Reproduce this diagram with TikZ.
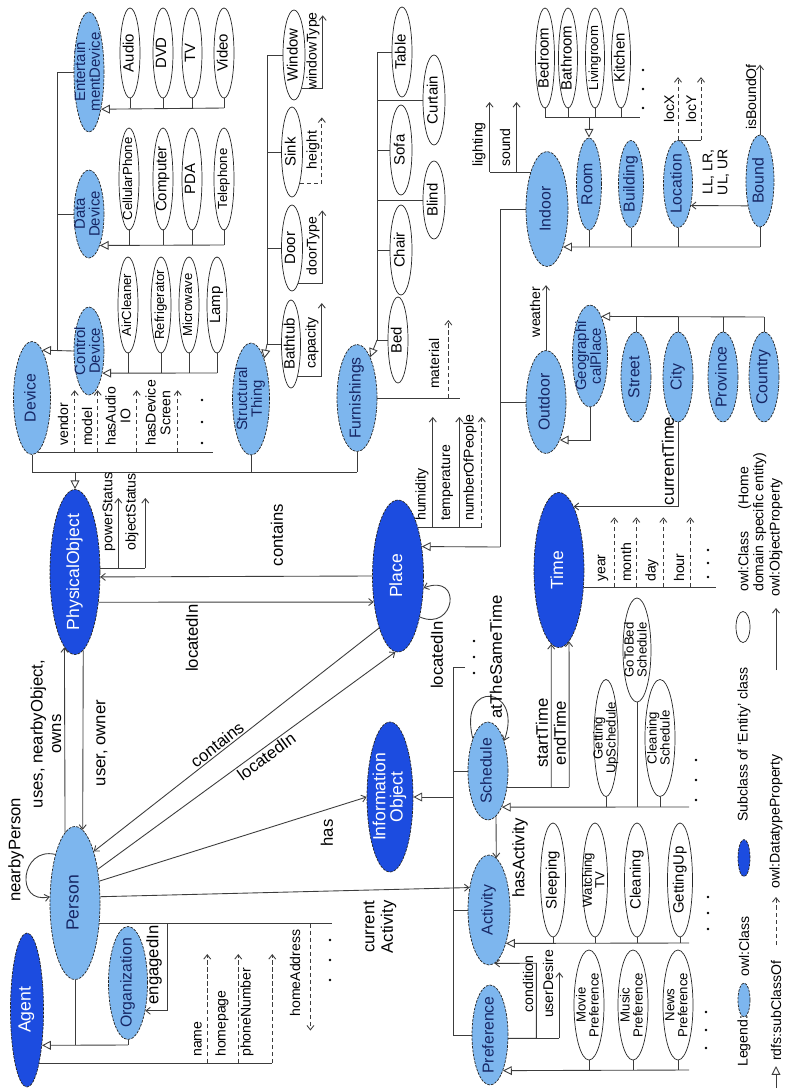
\documentclass[tikz,border=0pt]{standalone}
\usepackage{fontspec}
\setmainfont{Liberation Sans}
\usepackage{graphicx}
\usetikzlibrary{shapes.geometric,arrows.meta,calc}
\definecolor{ClsFill}{RGB}{125,182,238}
\definecolor{EntFill}{RGB}{28,76,224}
\definecolor{ClsText}{RGB}{22,38,100}
\definecolor{LnCol}{RGB}{60,60,60}
\newcommand{\vt}[1]{\makebox[0pt][c]{\raisebox{-0.5\height}[0pt][0pt]{\rotatebox{90}{\def\arraystretch{0.8}\begin{tabular}{@{}c@{}}#1\end{tabular}}}}}
\tikzset{
  sz/.style 2 args={minimum width=#1*0.02cm,minimum height=#2*0.02cm},
  nd_cls/.style={ellipse,draw=black!85,dash pattern=on 1.5pt off 0.7pt,fill=ClsFill,inner sep=0pt,text=ClsText,font=\fontsize{9}{10}\selectfont},
  nd_ent/.style={nd_cls,fill=EntFill,text=white,font=\fontsize{10}{11}\selectfont},
  nd_two/.style={font=\fontsize{8.5}{9}\selectfont},
  nd_leaf/.style={ellipse,draw=black!85,fill=white,inner sep=0pt,font=\fontsize{8.5}{9}\selectfont},
  nd_sm/.style={font=\fontsize{7.5}{8}\selectfont},
  ln/.style={draw=LnCol,line width=0.5pt},
  arr_sub/.style={ln,-{Triangle[open,length=5pt,width=5pt]}},
  arr_obj/.style={ln,-{Straight Barb[length=2.5pt,width=4pt]}},
  arr_dat/.style={arr_obj,dash pattern=on 2.5pt off 1.5pt},
  lbl/.style={rotate=90,inner sep=0.5pt,font=\fontsize{9.5}{10.5}\selectfont,align=center},
  slbl/.style={inner sep=1pt,font=\fontsize{9.5}{10.5}\selectfont},
  plbl/.style={rotate=90,inner sep=0.5pt,font=\fontsize{8}{8.5}\selectfont,align=center},
}

\begin{document}
\begin{tikzpicture}[x=0.02cm,y=-0.02cm]

\fill[white] (0,0) rectangle (786,1090);
\useasboundingbox (0,0) rectangle (786,1090);

% devices
\node[nd_cls,nd_two,sz={30}{120}] (EntDev)  at (89,72)  {\vt{Entertain\\mentDevice}};
\node[nd_cls,nd_two,sz={30}{88}]  (DataDev) at (89,214) {\vt{Data\\Device}};
\node[nd_cls,nd_two,sz={30}{88}]  (CtrlDev) at (89,351) {\vt{Control\\Device}};
\node[nd_cls,sz={37}{113}]        (Device)  at (32,398) {\vt{Device}};
\node[nd_leaf,sz={20}{90}]  (Audio) at (130,53) {\vt{Audio}};
\node[nd_leaf,sz={20}{90}]  (DVD)   at (163,53) {\vt{DVD}};
\node[nd_leaf,sz={20}{90}]  (TV)    at (192,53) {\vt{TV}};
\node[nd_leaf,sz={20}{90}]  (Video) at (224,53) {\vt{Video}};
\node[nd_leaf,nd_sm,sz={20}{102}] (CellPhone) at (129,179) {\vt{CellularPhone}};
\node[nd_leaf,sz={20}{102}]       (Computer)  at (163,179) {\vt{Computer}};
\node[nd_leaf,sz={20}{102}]       (PDA)       at (192,179) {\vt{PDA}};
\node[nd_leaf,nd_sm,sz={20}{102}] (Phone)     at (224,179) {\vt{Telephone}};
\node[nd_leaf,nd_sm,sz={20}{96}]  (AirClean)  at (128,305) {\vt{AirCleaner}};
\node[nd_leaf,nd_sm,sz={20}{96}]  (Fridge)    at (161,305) {\vt{Refrigerator}};
\node[nd_leaf,nd_sm,sz={20}{96}]  (Microwave) at (189,305) {\vt{Microwave}};
\node[nd_leaf,sz={20}{96}]        (Lamp)      at (217,305) {\vt{Lamp}};

\coordinate (entBus) at (224,108);
\coordinate (dataBus) at (224,245);
\coordinate (ctrlBus) at (217,373);
\coordinate (devJ) at (57,351);
\foreach \n in {Audio,DVD,TV,Video} \draw[ln] (\n.south) -- (\n.south |- entBus);
\foreach \n in {CellPhone,Computer,PDA,Phone} \draw[ln] (\n.south) -- (\n.south |- dataBus);
\foreach \n in {AirClean,Fridge,Microwave,Lamp} \draw[ln] (\n.south) -- (\n.south |- ctrlBus);
\draw[arr_sub] (entBus) -- (EntDev.-72);
\draw[arr_sub] (dataBus) -- (DataDev.-71);
\draw[arr_sub] (ctrlBus) -- (CtrlDev.-59);
\draw[ln] (EntDev.west) -| (devJ);
\draw[ln] (DataDev.west) -- (DataDev.west -| devJ);
\draw[arr_sub] (CtrlDev.west) -- (Device.78);

\draw[ln] (Device.-84) -- ++(175,0);
\foreach \dx in {37,60,99,140} \draw[arr_dat] (Device.-84) ++(\dx,0) -- ++(0,-62);
\node[plbl,anchor=west] at (63,447)  {vendor};
\node[plbl,anchor=west] at (87,447)  {model};
\node[plbl,anchor=west] at (118,447) {hasAudio\\IO};
\node[plbl,anchor=west] at (158,447) {hasDevice\\Screen};
\foreach \y in {400,422,443} \fill[black] (202,\y) circle[radius=0.8pt];

% structural thing
\node[nd_cls,nd_two,sz={37}{112}] (StrThing) at (251,399) {\vt{Structural\\Thing}};
\node[nd_leaf,sz={22}{90}] (Window)  at (294,55)  {\vt{Window}};
\node[nd_leaf,sz={21}{90}] (Sink)    at (292,152) {\vt{Sink}};
\node[nd_leaf,sz={21}{86}] (Door)    at (292,248) {\vt{Door}};
\node[nd_leaf,sz={19}{88}] (Bathtub) at (291,344) {\vt{Bathtub}};
\coordinate (stTop) at (267,55);
\coordinate (stBot) at (267,344);
\draw[ln] (Window.west) -- (stTop) -- (stBot);
\draw[ln] (Sink.west) -- (Sink.west -| stTop);
\draw[ln] (Door.west) -- (Door.west -| stTop);
\draw[ln] (Bathtub.west) -- (stBot);
\draw[arr_sub] (stBot) -- (StrThing.72);
\draw[arr_obj] (Window.-77) -- ++(21,0) -- ++(0,-73);
\draw[arr_dat] (Sink.-76) -- ++(22,0) -- ++(0,-66);
\draw[arr_obj] (Door.-80) -- ++(24,0) -- ++(0,-73);
\draw[arr_obj] (Bathtub.-78) -- ++(24,0) -- ++(0,-73);
\node[plbl] at (313,51)  {windowType};
\node[plbl] at (313,150) {height};
\node[plbl] at (313,246) {doorType};
\node[plbl] at (312,343) {capacity};

% furnishings
\node[nd_cls,sz={40}{107}] (Furnish) at (357,398) {\vt{Furnishings}};
\node[nd_leaf,sz={20}{90}] (Table)   at (402,52)  {\vt{Table}};
\node[nd_leaf,sz={22}{90}] (Curtain) at (434,100) {\vt{Curtain}};
\node[nd_leaf,sz={22}{90}] (Sofa)    at (401,150) {\vt{Sofa}};
\node[nd_leaf,sz={22}{78}] (Blind)   at (434,200) {\vt{Blind}};
\node[nd_leaf,sz={22}{90}] (Chair)   at (401,250) {\vt{Chair}};
\node[nd_leaf,sz={20}{86}] (Bed)     at (398,340) {\vt{Bed}};
\coordinate (fuTop) at (377,52);
\coordinate (fuBot) at (377,340);
\draw[ln] (Table.west) -- (fuTop) -- (fuBot);
\foreach \n in {Curtain,Sofa,Blind,Chair,Bed} \draw[ln] (\n.west) -- (\n.west -| fuTop);
\draw[arr_sub] (fuBot) -- (Furnish.72);
\draw[ln] (Furnish.east) -- ++(83,0);
\draw[arr_dat] (Furnish.east) ++(71,0) -- ++(0,-78);
\node[plbl,anchor=west] at (434,390) {material};

% physical object
\node[nd_ent,sz={50}{165}] (PhysObj) at (75,572) {\vt{PhysicalObject}};
\coordinate (poBus) at (75,472);
\draw[ln] (Device.south) |- (Furnish.south |- poBus);
\draw[ln] (StrThing.south) -- (StrThing.south |- poBus);
\draw[ln] (Furnish.south) -- (Furnish.south |- poBus);
\draw[arr_sub] (poBus) -- (PhysObj.north);
\draw[ln] (PhysObj.9) -- ++(45,0);
\draw[arr_obj] (PhysObj.9) ++(18,0) -- ++(0,-70);
\draw[arr_obj] (PhysObj.9) ++(45,0) -- ++(0,-70);
\node[plbl] at (109,512) {powerStatus};
\node[plbl] at (132,512) {objectStatus};

% place
\node[nd_ent,sz={51}{152}] (Place) at (398,576) {\vt{Place}};
\draw[arr_obj] (Place.west) -- (PhysObj.-11);
\draw[arr_obj] (PhysObj.-52) -- (Place.-133);
\node[lbl] at (277,535) {contains};
\node[lbl] at (192,638) {locatedIn};
\draw[arr_obj] (Place.-62) .. controls +(35,15) and +(40,-15) .. (Place.-25);
\node[lbl] at (437,655) {locatedIn};
\draw[ln] (Place.68) -- ++(64,0);
\draw[arr_obj] (Place.68) ++(15,0) -- ++(0,-110);
\draw[arr_obj] (Place.68) ++(41.5,0) -- ++(0,-110);
\draw[arr_dat] (Place.68) ++(64,0) -- ++(0,-110);
\node[plbl,anchor=west] at (422,522) {humidity};
\node[plbl,anchor=west] at (447,522) {temperature};
\node[plbl,anchor=west] at (470,522) {numberOfPeople};

% indoor / outdoor
\node[nd_cls,sz={42}{115}] (Indoor)  at (547,209) {\vt{Indoor}};
\node[nd_cls,sz={40}{103}] (Outdoor) at (546,402) {\vt{Outdoor}};
\coordinate (plBus) at (500,547);
\draw[ln] (Indoor.west) -| (plBus);
\draw[ln] (Outdoor.west) -- (Outdoor.west -| plBus);
\draw[arr_sub] (plBus) -- (Place.51);
\draw[ln] (Indoor.114) -- ++(-41,0);
\draw[arr_obj] (Indoor.114) ++(-41,0) -- ++(0,-70);
\draw[arr_obj] (Indoor.114) ++(-14,0) -- ++(0,-70);
\node[plbl,anchor=west] at (479,168) {lighting};
\node[plbl,anchor=west] at (505,168) {sound};
\draw[arr_obj] (Outdoor.north) -- ++(0,-65);
\node[plbl] at (535,312) {weather};

\node[nd_cls,sz={25}{92}] (Room)     at (589,184) {\vt{Room}};
\node[nd_cls,sz={25}{87}] (Building) at (631,184) {\vt{Building}};
\node[nd_cls,sz={29}{87}] (Location) at (678,184) {\vt{Location}};
\node[nd_cls,sz={28}{92}] (Bound)    at (760,181) {\vt{Bound}};
\coordinate (inBus) at (760,247);
\draw[ln] (Bound.south) -- (inBus);
\foreach \n in {Room,Building,Location} \draw[ln] (\n.south) -- (\n.south |- inBus);
\draw[arr_sub] (inBus) -- (Indoor.-67);

\node[nd_leaf,sz={19}{100}] (Bedroom)  at (545,58) {\vt{Bedroom}};
\node[nd_leaf,sz={19}{100}] (Bathroom) at (568,58) {\vt{Bathroom}};
\node[nd_leaf,nd_sm,sz={19}{100}] (Living) at (595,58) {\vt{Livingroom}};
\node[nd_leaf,sz={19}{100}] (Kitchen)  at (621,58) {\vt{Kitchen}};
\coordinate (rmBus) at (589,117);
\coordinate (rmEnd) at (640,117);
\draw[ln] (Bedroom.south) |- (rmEnd);
\foreach \n in {Bathroom,Living,Kitchen} \draw[ln] (\n.south) -- (\n.south |- rmBus);
\draw[arr_sub] (rmBus) -- (Room.north);
\foreach \y in {70,89,108} \fill[black] (643,\y) circle[radius=0.8pt];

\draw[arr_dat] (Location.north) -- ++(0,-63);
\draw[ln] (Location.north) -- ++(23,0);
\draw[arr_dat] (Location.north) ++(23,0) -- ++(0,-63);
\node[plbl,anchor=west] at (669,124) {locX};
\node[plbl,anchor=west] at (691,124) {locY};
\draw[arr_obj] (Bound.-116) -- (Location.-59);
\node[plbl] at (716,172) {LL, LR,\\UL, UR};
\draw[arr_obj] (Bound.north) -- ++(0,-70);
\node[plbl] at (751,97) {isBoundOf};

% geographical place
\node[nd_cls,nd_two,sz={35}{102}] (GeoPlace) at (590,356) {\vt{Geographi\\calPlace}};
\node[nd_cls,sz={30}{90}] (Street)   at (636,377) {\vt{Street}};
\node[nd_cls,sz={30}{90}] (City)     at (678,377) {\vt{City}};
\node[nd_cls,sz={30}{90}] (Province) at (723,377) {\vt{Province}};
\node[nd_cls,sz={30}{90}] (Country)  at (764,377) {\vt{Country}};
\coordinate (gpBus) at (764,317);
\draw[ln] (Country.north) -- (gpBus);
\foreach \n in {Street,City,Province} \draw[ln] (\n.north) -- (\n.north |- gpBus);
\draw[arr_sub] (gpBus) -- (GeoPlace.74);
\draw[arr_sub] (GeoPlace.south) |- (Outdoor.-70);

% time
\node[nd_ent,sz={50}{155}] (Time) at (559,570) {\vt{Time}};
\draw[arr_obj] (City.south) |- (Time.77);
\node[lbl] at (668,461) {currentTime};
\draw[ln] (Time.-35) -- ++(132,0);
\foreach \dx in {30.6,52.6,79.6,106.6} \draw[arr_dat] (Time.-35) ++(\dx,0) -- ++(0,-70);
\node[plbl,anchor=west] at (603,583) {year};
\node[plbl,anchor=west] at (626,583) {month};
\node[plbl,anchor=west] at (652,583) {day};
\node[plbl,anchor=west] at (679,583) {hour};
\foreach \y in {550,563,577} \fill[black] (708,\y) circle[radius=0.8pt];

% information object
\node[nd_ent,sz={46}{150}] (InfoObj) at (390,797) {\vt{Information\\Object}};
\node[nd_cls,sz={40}{98}]  (Schedule) at (488,771) {\vt{Schedule}};
\node[nd_cls,sz={42}{110}] (Activity) at (489,910) {\vt{Activity}};
\node[nd_cls,sz={36}{100}] (Prefer)   at (490,1035) {\vt{Preference}};
\coordinate (ioTop) at (453,667);
\coordinate (ioBot) at (453,1035);
\draw[ln] ($(ioTop)+(12,0)$) -- (ioTop) -- (ioBot) -- (Prefer.west);
\draw[ln] (Schedule.west) -- (Schedule.west -| ioTop);
\draw[ln] (Activity.west) -- (Activity.west -| ioTop);
\draw[arr_sub] (InfoObj.east -| ioTop) -- (InfoObj.east);
\foreach \y in {641,657,673} \fill[black] (474,\y) circle[radius=0.8pt];

\draw[arr_obj] (Schedule.115) .. controls +(-15,-60) and +(20,-55) .. (Schedule.62);
\node[lbl] at (496,657) {atTheSameTime};
\draw[ln] (Schedule.-40) -- ++(62,0);
\draw[arr_obj] (Schedule.-40) ++(44,0) -- (Time.-96);
\draw[arr_obj] (Schedule.-40) ++(62,0) -- (Time.-82);
\node[lbl] at (542,733) {startTime};
\node[lbl] at (560,733) {endTime};
\draw[arr_obj] (Schedule.-80) -- (Activity.82);
\node[lbl] at (520,858) {hasActivity};

\node[nd_leaf,nd_sm,sz={24}{117}] (GetUpSch) at (606,738) {\vt{Getting\\UpSchedule}};
\node[nd_leaf,nd_sm,sz={28}{104}] (BedSch)   at (637,650) {\vt{GoToBed\\Schedule}};
\node[nd_leaf,nd_sm,sz={30}{117}] (CleanSch) at (660,738) {\vt{Cleaning\\Schedule}};
\coordinate (scBus) at (689,807);
\foreach \n in {GetUpSch,BedSch,CleanSch} \draw[ln] (\n.south) -- (\n.south |- scBus);
\draw[arr_sub] (scBus) -- (Schedule.-69);
\foreach \y in {760,780,800} \fill[black] (696,\y) circle[radius=0.8pt];

\node[nd_leaf,sz={25}{114}] (Sleeping) at (553,880) {\vt{Sleeping}};
\node[nd_leaf,nd_sm,sz={25}{114}] (WatchTV) at (595,880) {\vt{Watching\\TV}};
\node[nd_leaf,sz={25}{114}] (CleanAct) at (637,880) {\vt{Cleaning}};
\node[nd_leaf,sz={25}{114}] (GetUpAct) at (680,880) {\vt{GettingUp}};
\coordinate (acBus) at (689,943);
\foreach \n in {Sleeping,WatchTV,CleanAct,GetUpAct} \draw[ln] (\n.south) -- (\n.south |- acBus);
\draw[arr_sub] (acBus) -- (Activity.-63);
\foreach \y in {897,913,929} \fill[black] (708,\y) circle[radius=0.8pt];

\node[nd_leaf,nd_sm,sz={30}{110}] (MoviePref) at (589,1005) {\vt{Movie\\Preference}};
\node[nd_leaf,nd_sm,sz={30}{110}] (MusicPref) at (633,1005) {\vt{Music\\Preference}};
\node[nd_leaf,nd_sm,sz={30}{110}] (NewsPref)  at (678,1005) {\vt{News\\Preference}};
\coordinate (prBus) at (689,1070);
\foreach \n in {MoviePref,MusicPref,NewsPref} \draw[ln] (\n.south) -- (\n.south |- prBus);
\draw[arr_sub] (prBus) -- (Prefer.-70);
\foreach \y in {1012,1030,1048} \fill[black] (706,\y) circle[radius=0.8pt];

\draw[arr_obj] (Prefer.-10) -| ++(28,-75) -- (Activity.-84);
\draw[ln] (Prefer.-10) -- ++(51,0);
\draw[arr_obj] (Prefer.-10) ++(51,0) -- ++(0,-66);
\node[plbl] at (528,984) {condition};
\node[plbl] at (548,984) {userDesire};

% agent / person
\node[nd_ent,sz={33}{154}] (Agent)  at (27,1010) {\vt{Agent}};
\node[nd_cls,sz={50}{153},font=\fontsize{10}{11}\selectfont] (Person) at (75,903) {\vt{Person}};
\node[nd_cls,sz={39}{113}] (Org)    at (128,983) {\vt{Organization}};
\coordinate (agBus) at (128,1045);
\draw[ln] (Org.south) -- (agBus);
\draw[ln] (Person.south) -- (Person.south |- agBus);
\draw[arr_sub] (agBus) -- (Agent.-67);

\draw[ln] (Agent.-77) -- ++(233,0);
\foreach \dx in {168,199,233} \draw[arr_dat] (Agent.-77) ++(\dx,0) -- ++(0,-109);
\node[plbl,anchor=west] at (198,1058) {name};
\node[plbl,anchor=west] at (222,1058) {homepage};
\node[plbl,anchor=west] at (247,1058) {phoneNumber};

\draw[ln] (Person.-40) -- ++(233,0);
\draw[arr_obj] (Person.-40) ++(68,0) |- (Org.-58);
\node[lbl] at (154,965) {engagedIn};
\draw[arr_dat] (Person.-40) ++(211,0) -- ++(0,107);
\node[plbl] at (295,973) {homeAddress};
\foreach \y in {940,960,980} \fill[black] (330,\y) circle[radius=0.8pt];

\draw[arr_obj] (Person.112) .. controls +(-35,-8) and +(-35,8) .. (Person.166);
\node[lbl] at (16,850) {nearbyPerson};
\draw[arr_obj] (Person.98) -- (PhysObj.-98);
\draw[arr_obj] (PhysObj.-84) -- (Person.84);
\node[lbl] at (46,734) {uses, nearbyObject,\\owns};
\node[lbl] at (102,743) {user, owner};

\draw[arr_obj] (Place.-110) -- node[slbl,sloped,above,pos=0.55] {contains} (Person.70);
\draw[arr_obj] (Person.56) -- node[slbl,sloped,below,pos=0.55] {locatedIn} (Place.-92);
\draw[arr_obj] (Person.42) -- (InfoObj.west);
\node[lbl] at (327,833) {has};
\draw[arr_obj] (Person.14) -- (Activity.131);
\node[lbl] at (380,927) {current\\Activity};

% legend
\node[plbl,anchor=west] at (744,1068) {Legend:};
\node[nd_cls,sz={12}{34}] (lgCls) at (744,1000) {};
\node[plbl,anchor=west] at (744,978) {owl:Class};
\node[nd_ent,sz={12}{37}] (lgEnt) at (744,858) {};
\node[plbl,anchor=west] at (744,823) {Subclass of `Entity' class};
\node[nd_leaf,sz={14}{31}] (lgLeaf) at (743,627) {};
\node[plbl,anchor=north west,align=left] at (737,593) {owl:Class\hspace{1.6em}(Home\\domain specific entity)};
\coordinate (lgSub) at (776,1088);
\draw[arr_sub] (lgSub) -- ++(0,-22);
\node[plbl,anchor=west] at (776,1062) {rdfs:subClassOf};
\coordinate (lgDat) at (776,945);
\draw[arr_dat] (lgDat) -- ++(0,-48);
\node[plbl,anchor=west] at (776,890) {owl:DatatypeProperty};
\coordinate (lgObj) at (776,670);
\draw[arr_obj] (lgObj) -- ++(0,-62);
\node[plbl,anchor=west] at (776,598) {owl:ObjectProperty};

\end{tikzpicture}
\end{document}
